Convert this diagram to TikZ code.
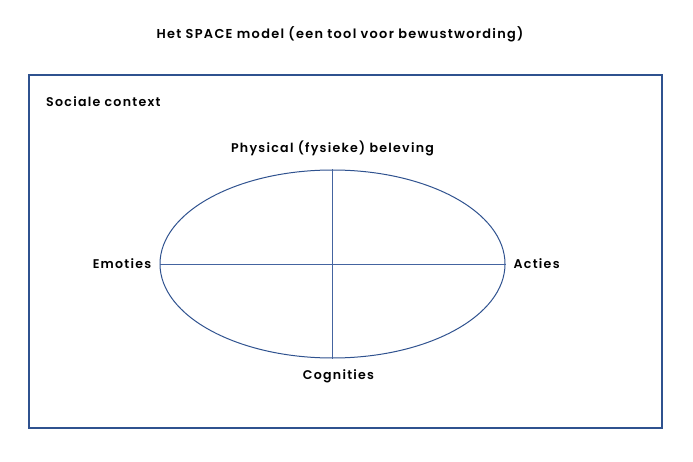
\documentclass[tikz,border=0pt]{standalone}
\usepackage{fontspec}
\setmainfont{Poppins SemiBold}[LetterSpace=10]
\definecolor{SpaceBlue}{RGB}{47,82,143}
\definecolor{AxisBlue} {RGB}{68,100,160}
\usetikzlibrary{positioning,shapes.geometric}

\begin{document}
\begin{tikzpicture}[x=1pt,y=-1pt,
    lbl/.style={font=\fontsize{12.6}{14}\selectfont,text=black,inner sep=0pt}]
  %% Page frame (693 x 462)
  \useasboundingbox (0,0) rectangle (693,462);
  %% Title
  \node[lbl,font=\fontsize{12.9}{14}\selectfont] (title) at (340,34)
       {Het SPACE model (een tool voor bewustwording)};
  %% Social context box
  \node[draw=SpaceBlue,line width=1.3pt,minimum width=633pt,minimum height=353pt,
        inner sep=0pt] (context) at (345.5,251.5) {};
  \node[lbl,anchor=west] (sociaal) at (46,102) {Sociale context};
  %% Ellipse with cross
  \node[ellipse,draw=SpaceBlue,line width=1pt,minimum width=345pt,
        minimum height=188pt,inner sep=0pt] (ell) at (332.5,264) {};
  \draw[AxisBlue,line width=0.7pt](ell.north)--(ell.south);
  \draw[AxisBlue,line width=0.7pt](ell.west)--(ell.east);
  %% Four labels round the ellipse
  \node[lbl,above=13pt of ell.north] (phys) {Physical (fysieke) beleving};
  \node[lbl,below=11pt of ell.south,xshift=6pt] (cogn) {Cognities};
  \node[lbl,left=8pt of ell.west] (emo) {Emoties};
  \node[lbl,right=8pt of ell.east] (act) {Acties};
\end{tikzpicture}
\end{document}
